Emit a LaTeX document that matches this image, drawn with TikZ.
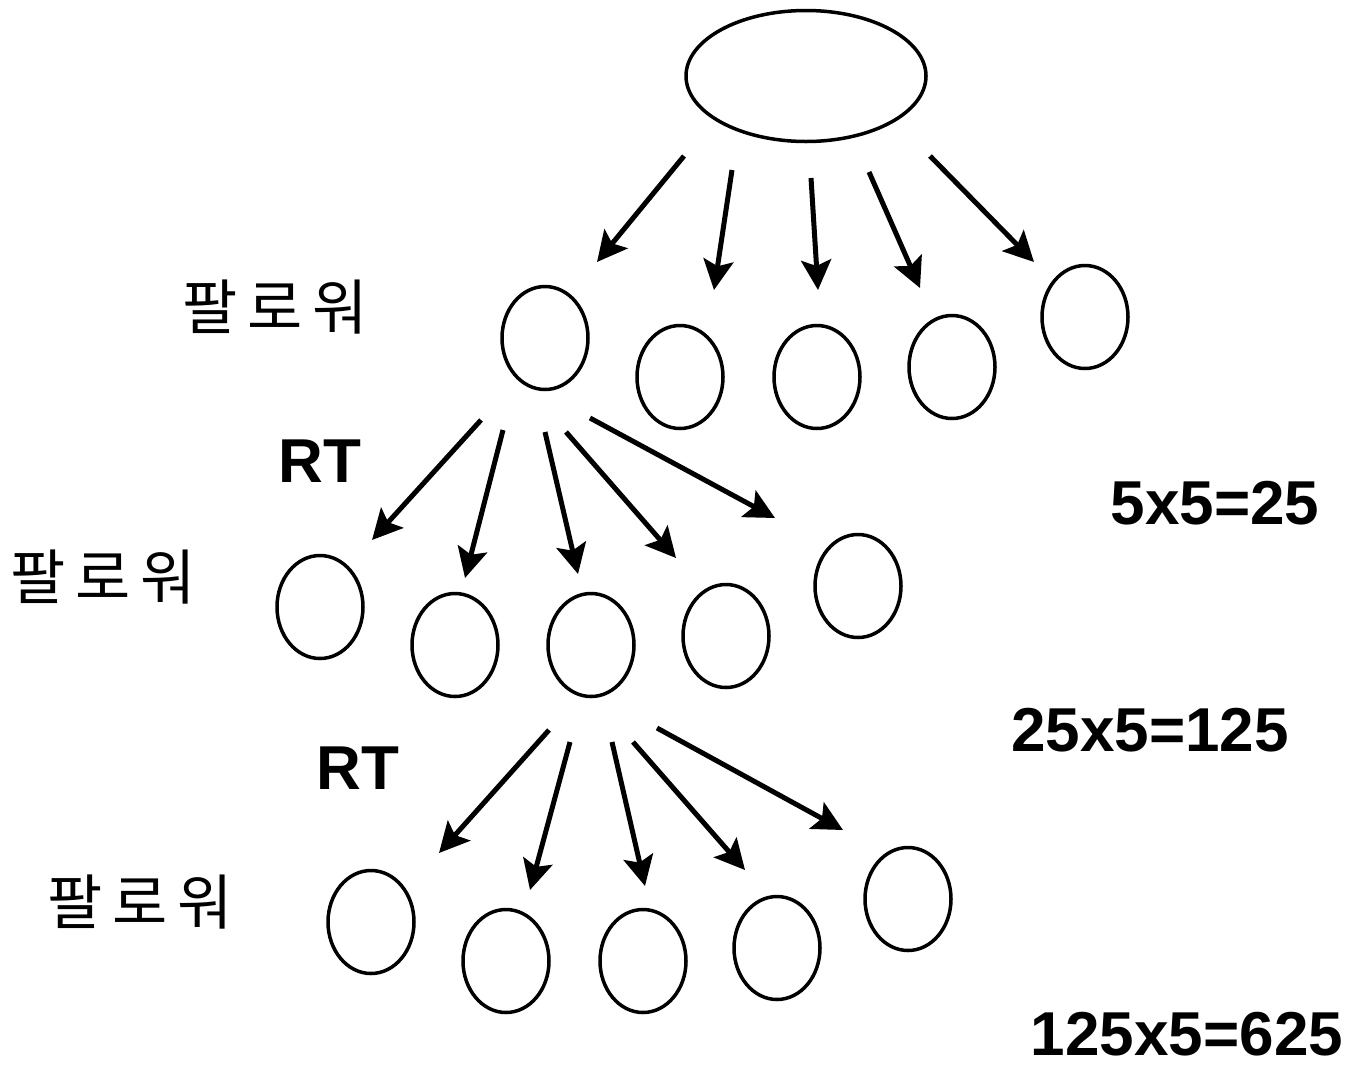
\documentclass[tikz,border=0pt]{standalone}
\usepackage{fontspec}
\setmainfont{Liberation Sans}
\newfontfamily\kr{Noto Sans CJK KR}
\usetikzlibrary{arrows.meta,shapes.geometric}
\begin{document}
\begin{tikzpicture}[x=1pt,y=-1pt,
  circ/.style={draw,line width=3.5pt,ellipse,minimum width=86pt,minimum height=103pt,inner sep=0pt},
  arr/.style={line width=5pt,-{Stealth[length=30pt,width=30pt,inset=6pt]}},
  kor/.style={font=\kr\fontsize{60}{60}\selectfont,inner sep=0pt},
  bold/.style={font=\bfseries\fontsize{62}{62}\selectfont,inner sep=0pt,anchor=base}]
\path[use as bounding box,fill=white] (0,0) rectangle (1354,1066);
% top
\node[draw,line width=3.5pt,ellipse,minimum width=240pt,minimum height=131pt,inner sep=0pt] (top) at (806,76) {};
% level 1
\node[circ] (a1) at (545,338) {};
\node[circ] (a2) at (680,377) {};
\node[circ] (a3) at (817,377) {};
\node[circ] (a4) at (952,367) {};
\node[circ] (a5) at (1085,317) {};
% level 2
\node[circ] (b1) at (320,607) {};
\node[circ] (b2) at (455,645) {};
\node[circ] (b3) at (591,645) {};
\node[circ] (b4) at (726,636) {};
\node[circ] (b5) at (858,586) {};
% level 3
\node[circ] (c1) at (371,922) {};
\node[circ] (c2) at (506,961) {};
\node[circ] (c3) at (643,961) {};
\node[circ] (c4) at (777,948) {};
\node[circ] (c5) at (908,899) {};
% arrow ends
\coordinate (ts1) at (684,156); \coordinate (te1) at (597,262);
\coordinate (ts2) at (732,170); \coordinate (te2) at (714,290);
\coordinate (ts3) at (811,178); \coordinate (te3) at (818,290);
\coordinate (ts4) at (869,172); \coordinate (te4) at (920,288);
\coordinate (ts5) at (930,156); \coordinate (te5) at (1034,262);
\coordinate (as1) at (481,420); \coordinate (ae1) at (372,540);
\coordinate (as2) at (503,430); \coordinate (ae2) at (465,578);
\coordinate (as3) at (545,432); \coordinate (ae3) at (578,574);
\coordinate (as4) at (566,432); \coordinate (ae4) at (676,558);
\coordinate (as5) at (590,418); \coordinate (ae5) at (775,518);
\coordinate (bs1) at (549,730); \coordinate (be1) at (439,853);
\coordinate (bs2) at (570,742); \coordinate (be2) at (530,890);
\coordinate (bs3) at (612,742); \coordinate (be3) at (645,886);
\coordinate (bs4) at (633,742); \coordinate (be4) at (745,870);
\coordinate (bs5) at (657,728); \coordinate (be5) at (843,830);
\foreach \i in {1,...,5}{
  \draw[arr] (ts\i) -- (te\i);
  \draw[arr] (as\i) -- (ae\i);
  \draw[arr] (bs\i) -- (be\i);
}
% labels
\node[kor] (f1) at (275,307) {팔\hspace{10pt}로\hspace{10pt}워};
\node[kor] (f2) at (103,577) {팔\hspace{10pt}로\hspace{10pt}워};
\node[kor] (f3) at (140,902) {팔\hspace{10pt}로\hspace{10pt}워};
\node[bold] (rt1) at (320,482) {RT};
\node[bold] (rt2) at (358,789) {RT};
\node[bold] (n1) at (1215,524) {5x5=25};
\node[bold] (n2) at (1150,751) {25x5=125};
\node[bold] (n3) at (1187,1055) {125x5=625};
\end{tikzpicture}
\end{document}
